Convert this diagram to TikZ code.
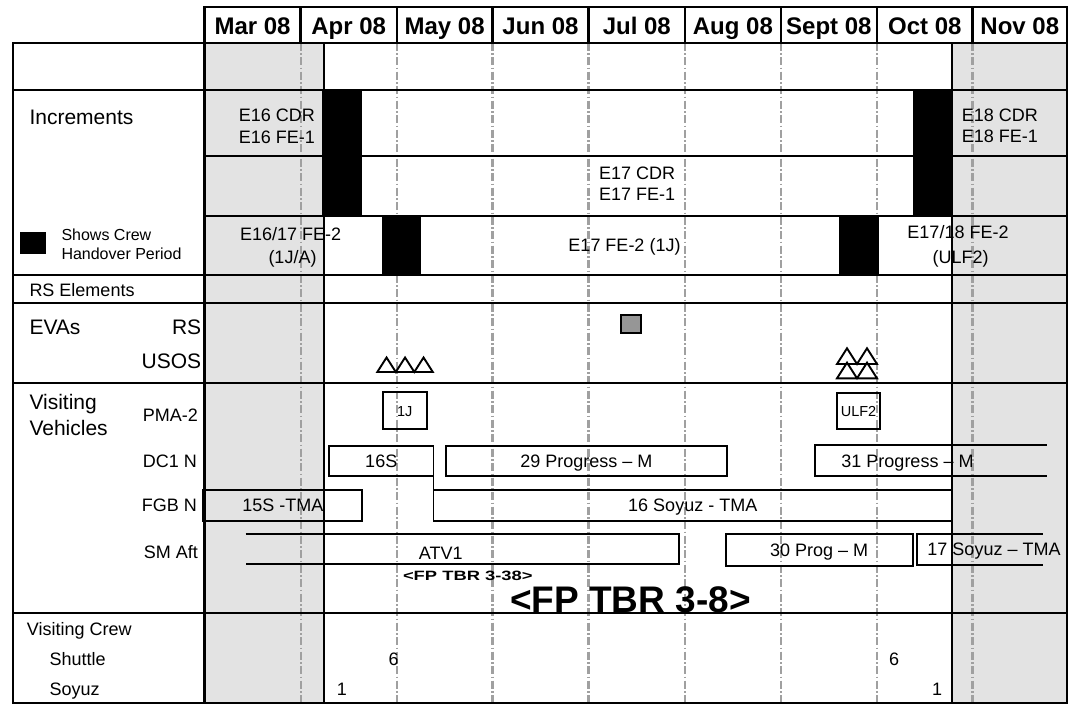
\documentclass[tikz,border=0pt]{standalone}
\usepackage{fontspec}
\setmainfont{Liberation Sans}
\definecolor{periodgray}{RGB}{227,227,227}
\definecolor{gridgray}{RGB}{160,160,160}
\definecolor{evagray}{RGB}{150,150,150}
\begin{document}
\begin{tikzpicture}[x=1pt,y=-1pt,
  rule/.style={line width=2.3pt, line cap=rect},
  boxline/.style={line width=1.9pt},
  vbox/.style={draw, line width=1.9pt, inner sep=0pt, outer sep=0pt, font=\fontsize{18}{21}\selectfont, text height=12.9pt, text depth=0pt},
  pbox/.style={draw, line width=1.9pt, inner sep=0pt, outer sep=0pt, font=\fontsize{14.5}{17}\selectfont, text height=10.4pt, text depth=0pt},
  gridline/.style={draw=gridgray, line width=2.2pt, dash pattern=on 8pt off 2.5pt on 1.5pt off 2.5pt},
  evatri/.style={line width=1.9pt, line join=miter},
  txt/.style={inner sep=0pt, font=\fontsize{18}{21}\selectfont},
  big/.style={inner sep=0pt, font=\fontsize{21}{24}\selectfont},
  small/.style={inner sep=0pt, font=\fontsize{16}{19}\selectfont},
  month/.style={inner sep=0pt, font=\bfseries\fontsize{24}{28}\selectfont, anchor=base},
]
\useasboundingbox (0,0) rectangle (1070,705);
\fill[white] (0,0) rectangle (1070,705);
% shaded periods
\fill[periodgray] (204.5,42.7) rectangle (324,703);
\fill[periodgray] (952,42.7) rectangle (1067,703);
% month grid
\foreach \x in {300.6,396.7,492.4,588.5,685,780.7,877,972.5}
  \draw[gridline] (\x,42.7) -- (\x,703);
% table rules
\draw[rule] (204.5,7.3) -- (1067,7.3);
\foreach \y in {42.7,89.8,275,303,383,613,703}
  \draw[rule] (13,\y) -- (1067,\y);
\draw[rule] (204.5,156) -- (1067,156);
\draw[rule] (204.5,216) -- (1067,216);
\draw[rule] (13,42.7) -- (13,703);
\draw[rule] (204.5,7.3) -- (204.5,703);
\draw[rule] (1067,7.3) -- (1067,703);
\draw[rule] (324,42.7) -- (324,703);
\draw[rule] (952,42.7) -- (952,703);
\foreach \x in {300.6,396.7,492.4,588.5,685,780.7,877,972.5}
  \draw[rule] (\x,7.3) -- (\x,42.7);
% month headers
\foreach \c/\t [count=\i] in {252.6/Mar 08,348.7/Apr 08,444.6/May 08,540.5/Jun 08,636.8/Jul 08,732.9/Aug 08,828.9/Sept 08,924.8/Oct 08,1019.8/Nov 08}
  \node[month] (m\i) at (\c,34) {\t};
% crew handover periods
\fill[black] (322,89.8) rectangle (361.6,216);
\fill[black] (381.5,216) rectangle (420.8,275);
\fill[black] (838.9,216) rectangle (878.5,275);
\fill[black] (912.9,89.8) rectangle (952,216);
\fill[black] (19.6,232.3) rectangle (45.8,254.3);
% EVAs
\filldraw[fill=evagray, line width=1.9pt] (621,315) rectangle (641,333.3);
\draw[evatri] (377.3,372) -- (386.55,357.5) -- (395.8,372) -- (405.05,357.5) -- (414.3,372) -- (423.55,357.5) -- (432.8,372) -- cycle;
\draw[evatri] (837,364) -- (847,348.3) -- (857,364) -- (867,348.3) -- (877,364) -- cycle;
\draw[evatri] (837,378.3) -- (847,362.6) -- (857,378.3) -- (867,362.6) -- (877,378.3) -- cycle;
% visiting vehicles
\node[pbox, minimum width=44pt, minimum height=37pt] (j1) at (404.7,410.8) {1J};
\node[pbox, minimum width=43pt, minimum height=36.3pt] (ulf) at (858.5,410.85) {ULF2};
\node[vbox, minimum width=104.5pt, minimum height=30pt] (s16) at (381.25,460.7) {16S};
\node[vbox, minimum width=281.3pt, minimum height=30pt] (p29) at (586.35,460.7) {29 Progress \textendash{} M};
\node[vbox, minimum width=159pt, minimum height=30.7pt] (s15) at (282.8,505.35) {15S -TMA};
\node[vbox, minimum width=518.5pt, minimum height=30.7pt] (s16t) at (692.75,505.35) {16 Soyuz - TMA};
\node[vbox, minimum width=187pt, minimum height=31.4pt] (p30) at (819.2,550) {30 Prog \textendash{} M};
\draw[boxline] (s16.south east) -- (s16t.north west);
\draw[boxline] (1046.7,444.7) -- (815,444.7) -- (815,475.7) -- (1046.7,475.7);
\draw[boxline] (245.7,534.3) -- (679,534.3) -- (679,564.3) -- (245.7,564.3);
\draw[boxline] (1042.7,534.3) -- (917,534.3) -- (917,565) -- (1042.7,565);
\node[txt, anchor=base] (p31) at (907.5,467.3) {31 Progress \textendash{} M};
\node[txt, anchor=base] (atv) at (440.8,559.3) {ATV1};
\node[txt, anchor=base] (s17) at (994,555) {17 Soyuz \textendash{} TMA};
\node[anchor=base, inner sep=0pt, font=\bfseries\fontsize{13.5}{16}\selectfont, xscale=1.36] (fp38) at (467.8,580.7) {<FP TBR 3-38>};
\node[anchor=base, inner sep=0pt, font=\bfseries\fontsize{37}{40}\selectfont] (fp8) at (630.4,612.3) {<FP TBR 3-8>};
% increments text
\node[big, anchor=base west] (incr) at (29.3,124) {Increments};
\node[txt, anchor=base west] (e16a) at (238.6,121.7) {E16 CDR};
\node[txt, anchor=base west] (e16b) at (238.6,143) {E16 FE-1};
\node[txt, anchor=base west] (e18a) at (961.7,121.7) {E18 CDR};
\node[txt, anchor=base west] (e18b) at (961.7,142) {E18 FE-1};
\node[txt, anchor=base west] (e17a) at (599,179.5) {E17 CDR};
\node[txt, anchor=base west] (e17b) at (599,200.5) {E17 FE-1};
\node[txt, anchor=base] (fe2a) at (290.6,240.5) {E16/17 FE-2};
\node[txt, anchor=base] (fe2b) at (292.5,263) {(1J/A)};
\node[txt, anchor=base] (fe2c) at (624.5,251.5) {E17 FE-2 (1J)};
\node[txt, anchor=base] (fe2d) at (958,238.3) {E17/18 FE-2};
\node[txt, anchor=base] (fe2e) at (960.5,263) {(ULF2)};
\node[small, anchor=base west] (leg1) at (61.3,240.5) {Shows Crew};
\node[small, anchor=base west] (leg2) at (61.3,259.3) {Handover Period};
% row labels
\node[txt, anchor=base west] (rse) at (29.3,296.5) {RS Elements};
\node[big, anchor=base west] (evas) at (29.3,334.8) {EVAs};
\node[big, anchor=base east] (rs) at (201.4,334.8) {RS};
\node[big, anchor=base east] (usos) at (201.4,368.5) {USOS};
\node[big, anchor=base west] (visit) at (29.3,409.3) {Visiting};
\node[big, anchor=base west] (veh) at (29.3,435) {Vehicles};
\node[txt, anchor=base east] (pma) at (198,421.7) {PMA-2};
\node[txt, anchor=base east] (dc1) at (197,467) {DC1 N};
\node[txt, anchor=base east] (fgb) at (197,511.7) {FGB N};
\node[txt, anchor=base east] (sma) at (198,558) {SM Aft};
\node[txt, anchor=base west] (vc) at (26.7,635.3) {Visiting Crew};
\node[txt, anchor=base west] (sh) at (49.3,665.7) {Shuttle};
\node[txt, anchor=base west] (so) at (49.3,695.7) {Soyuz};
\node[txt, anchor=base] (n6a) at (393.5,665.7) {6};
\node[txt, anchor=base] (n1a) at (342,695.7) {1};
\node[txt, anchor=base] (n6b) at (894,665.7) {6};
\node[txt, anchor=base] (n1b) at (937,695.7) {1};
\end{tikzpicture}
\end{document}
